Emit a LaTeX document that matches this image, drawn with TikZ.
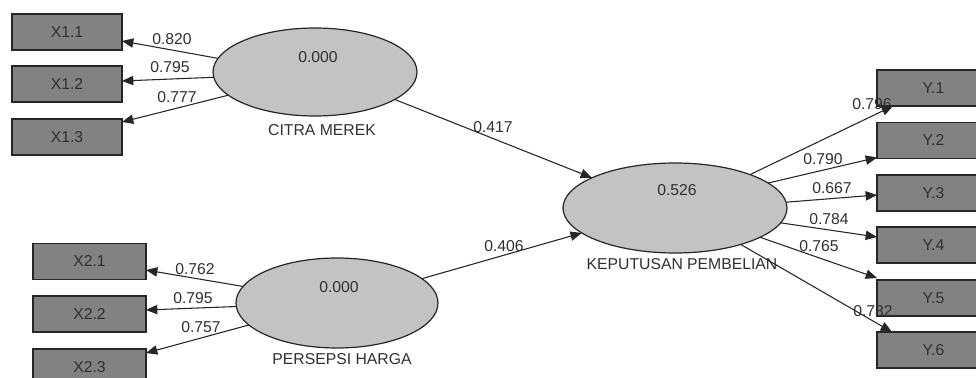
\documentclass[tikz,border=0pt]{standalone}
\usepackage{fontspec}
\setmainfont{Liberation Sans}
\usetikzlibrary{arrows.meta,shapes.geometric}
\definecolor{boxfill}{HTML}{828282}
\definecolor{ellfill}{HTML}{C3C3C3}
\definecolor{edgec}{HTML}{262626}
\definecolor{txt}{HTML}{303030}
\begin{document}
\begin{tikzpicture}[x=0.75pt,y=-0.75pt,
  ind/.style={draw=edgec,fill=boxfill,line width=1.1pt,minimum height=27pt,inner sep=0pt,outer sep=0pt,text=txt,font=\fontsize{11.8}{13}\selectfont},
  indA/.style={ind,minimum width=82.5pt},
  indB/.style={ind,minimum width=84.75pt},
  lat/.style={ellipse,draw=edgec,fill=ellfill,line width=0.9pt,inner sep=0pt,outer sep=0pt},
  val/.style={text=txt,font=\fontsize{11.8}{14}\selectfont,inner sep=0pt},
  arr/.style={draw=edgec,line width=0.8pt,-{Triangle[length=8.5pt,width=7pt]}}]
\useasboundingbox (0,0) rectangle (976,378);
\clip (0,0) rectangle (976,378);
\fill[white] (0,0) rectangle (976,378);

% indicator boxes
\node[indA] (x11) at (67,32) {X1.1};
\node[indA] (x12) at (67,84) {X1.2};
\node[indA] (x13) at (67,137) {X1.3};
\node[indB] (x21) at (89.5,261.5) {X2.1};
\node[indB] (x22) at (89.5,314) {X2.2};
\node[indB] (x23) at (89.5,367) {X2.3};
\node[indB] (y1) at (933.5,88) {Y.1};
\node[indB] (y2) at (933.5,140.5) {Y.2};
\node[indB] (y3) at (933.5,193) {Y.3};
\node[indB] (y4) at (933.5,245) {Y.4};
\node[indB] (y5) at (933.5,298) {Y.5};
\node[indB] (y6) at (933.5,350) {Y.6};

% latent variables
\node[lat,minimum width=153pt,minimum height=66pt] (cm) at (315,72) {};
\node[lat,minimum width=151.5pt,minimum height=67.5pt] (ph) at (337,303) {};
\node[lat,minimum width=168pt,minimum height=67.5pt] (kp) at (675,208) {};

\node[val] (cmv) at (318,57) {0.000};
\node[val] (phv) at (339,287) {0.000};
\node[val] (kpv) at (677,190) {0.526};
\node[val] (cml) at (322,130) {CITRA MEREK};
\node[val] (phl) at (342,359) {PERSEPSI HARGA};
\node[val] (kpl) at (682,264) {KEPUTUSAN PEMBELIAN};

% path coefficients / loadings
\node[val] (l11) at (172,39) {0.820};
\node[val] (l12) at (170,67) {0.795};
\node[val] (l13) at (177,97) {0.777};
\node[val] (l21) at (195,269) {0.762};
\node[val] (l22) at (193,298) {0.795};
\node[val] (l23) at (201,327) {0.757};
\node[val] (p1) at (493,127) {0.417};
\node[val] (p2) at (504,246) {0.406};
\node[val] (ly1) at (872,104) {0.796};
\node[val] (ly2) at (823,159) {0.790};
\node[val] (ly3) at (832,188) {0.667};
\node[val] (ly4) at (829,219) {0.784};
\node[val] (ly5) at (819,246) {0.765};
\node[val] (ly6) at (873,311) {0.732};

% connectors
\draw[arr] (cm.172) -- ([yshift=-6.75pt]x11.east);
\draw[arr] (cm.183) -- ([yshift=2.25pt]x12.east);
\draw[arr] (cm.195) -- ([yshift=-2.25pt]x13.north east);
\draw[arr] (ph.170) -- ([yshift=-6.4pt]x21.east);
\draw[arr] (ph.182) -- ([yshift=3pt]x22.east);
\draw[arr] (ph.194) -- ([yshift=-3pt]x23.north east);
\draw[arr] (cm.341) -- (kp.160);
\draw[arr] (ph.16) -- (kp.195);
\draw[arr] (kp.24) -- ([xshift=12pt]y1.south west);
\draw[arr] (kp.15) -- ([yshift=0.75pt]y2.south west);
\draw[arr] (kp.3) -- ([yshift=-1.5pt]y3.west);
\draw[arr] (kp.352) -- ([yshift=-7.5pt]y4.north west);
\draw[arr] (kp.341) -- ([yshift=1.5pt]y5.north west);
\draw[arr] (kp.331) -- ([xshift=11.25pt]y6.north west);
\end{tikzpicture}
\end{document}
